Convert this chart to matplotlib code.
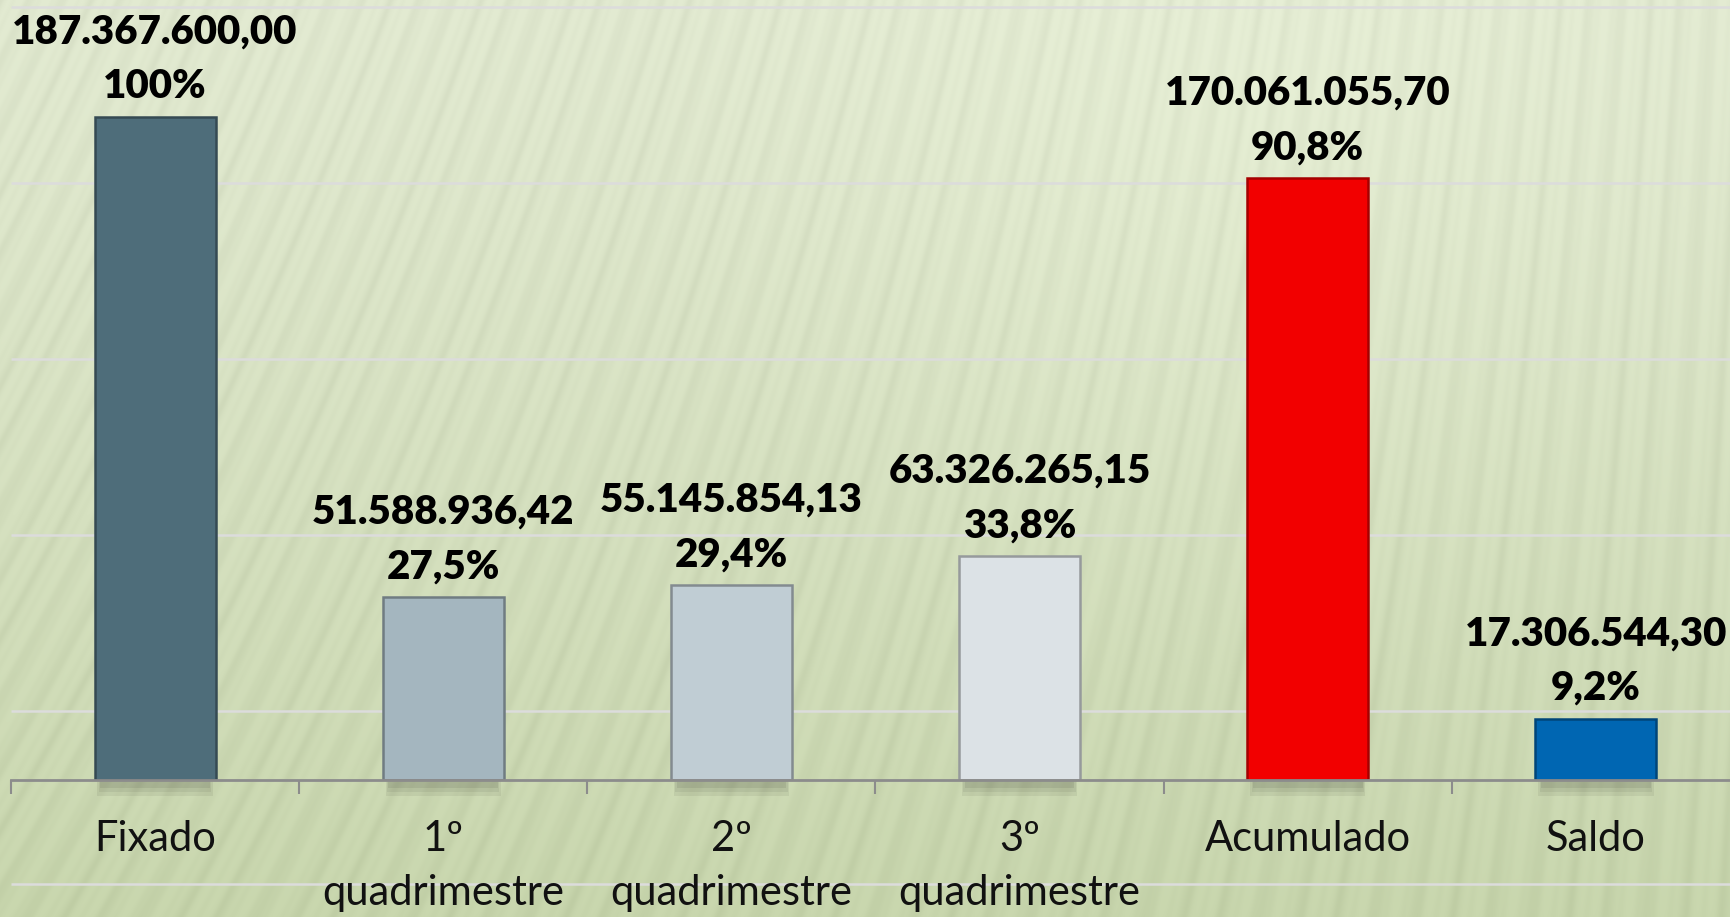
import numpy as np
import matplotlib
matplotlib.use('Agg')
import matplotlib.pyplot as plt
from matplotlib.colors import to_rgb

categories = ['Fixado', '1º\nquadrimestre', '2º\nquadrimestre', '3º\nquadrimestre', 'Acumulado', 'Saldo']
values = [187367600.00, 51588936.42, 55145854.13, 63326265.15, 170061055.70, 17306544.30]
value_labels = ['187.367.600,00', '51.588.936,42', '55.145.854,13', '63.326.265,15', '170.061.055,70', '17.306.544,30']
pct_labels = ['100%', '27,5%', '29,4%', '33,8%', '90,8%', '9,2%']
bar_colors = ['#4e6d7a', '#a4b6bf', '#c0cdd4', '#dce2e6', '#f20000', '#0066b2']

W, H = 1730, 917
plt.rcParams['font.family'] = ['Lato', 'DejaVu Sans']

fig = plt.figure(figsize=(W / 100, H / 100), dpi=100)

# background: green gradient with soft slanted stripes
bg = fig.add_axes([0, 0, 1, 1], zorder=0)
yy, xx = np.mgrid[0:H, 0:W].astype(float)
top = np.array(to_rgb('#e3ebd2'))
bot = np.array(to_rgb('#c9d7ae'))
t = (yy / H) ** 1.2
img = top[None, None, :] * (1 - t[..., None]) + bot[None, None, :] * t[..., None]
k = 0.42 * (1 - xx / W) + 0.05
u = xx + yy * k
stripe = (0.5 + 0.5 * np.cos(2 * np.pi * u / 30.0)) ** 3
stripe2 = (0.5 + 0.5 * np.cos(2 * np.pi * u / 13.0)) ** 2
img = img - (0.028 * stripe + 0.012 * stripe2)[..., None]
r = np.hypot(xx - 1250, yy - 120) / 600
img = img + 0.02 * np.clip(1 - r, 0, 1)[..., None]
bg.imshow(np.clip(img, 0, 1), extent=[0, W, H, 0], aspect='auto', interpolation='bilinear')
for gy in [7, 183, 359, 535, 711, 884]:
    bg.plot([11, W], [gy, gy], color='#dcdcdc', lw=1.8, solid_capstyle='butt')
bg.set_xlim(0, W)
bg.set_ylim(H, 0)
bg.axis('off')

ax = fig.add_axes([11 / W, (H - 780) / H, 1729 / W, 780 / H], zorder=1)
ax.patch.set_alpha(0)
x = np.arange(len(categories))
ymax = values[0] * 780 / 663
ax.set_ylim(0, ymax)
ax.set_xlim(-0.5, len(categories) - 0.5)

# soft shadow under the bars
for i, a in enumerate([0.06, 0.06, 0.07]):
    ax.bar(x, ymax * 0.02, width=0.40 - i * 0.01, bottom=-ymax * (0.02 - i * 0.005),
           color='black', alpha=a, linewidth=0, zorder=1, clip_on=False)
bars = ax.bar(x, values, width=0.42, color=bar_colors, zorder=2)
for b, c in zip(bars, bar_colors):
    rgb = np.array(to_rgb(c))
    b.set_edgecolor(tuple(rgb * 0.68))
    b.set_linewidth(1.8)

for xi, v, vl, pl in zip(x, values, value_labels, pct_labels):
    ax.annotate(pl, (xi, v), xytext=(0, 13.5), textcoords='offset points',
                ha='center', va='baseline', fontsize=29, fontweight='heavy', color='black')
    ax.annotate(vl, (xi, v), xytext=(0, 53), textcoords='offset points',
                ha='center', va='baseline', fontsize=29, fontweight='heavy', color='black',
                annotation_clip=False)

ax.set_xticks(x)
ax.set_xticklabels(categories, fontsize=30, color='#111111', linespacing=1.5)
ax.tick_params(axis='x', which='major', length=0, pad=29)
ax.set_xticks(np.arange(-0.5, len(categories), 1), minor=True)
ax.tick_params(axis='x', which='minor', length=10, width=1.5, color='#8c8c8c')
ax.set_yticks([])
for s in ['top', 'right', 'left']:
    ax.spines[s].set_visible(False)
ax.spines['bottom'].set_color('#8c8c8c')
ax.spines['bottom'].set_linewidth(2)
ax.spines['bottom'].set_zorder(3)

fig.savefig('out.png', dpi=100)
